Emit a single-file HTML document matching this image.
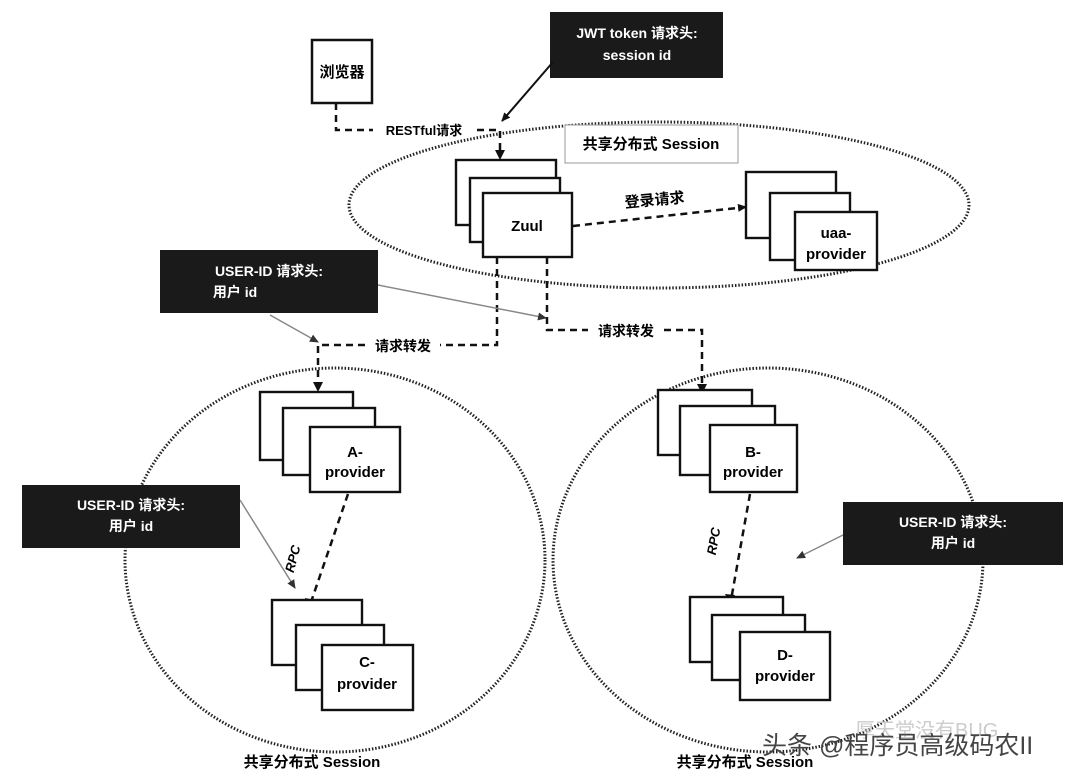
<!DOCTYPE html>
<html><head><meta charset="utf-8"><style>
html,body{margin:0;padding:0;background:#fff;}
svg{display:block;}
text{font-family:"Liberation Sans","Noto Sans CJK SC",sans-serif;}
</style></head><body>
<svg width="1080" height="780" viewBox="0 0 1080 780" xmlns="http://www.w3.org/2000/svg">
<defs>
<marker id="ah" markerWidth="10" markerHeight="10" refX="8" refY="5" orient="auto" markerUnits="userSpaceOnUse"><path d="M0,1 L9,5 L0,9 z" fill="#111"/></marker>
<marker id="ag" markerWidth="10" markerHeight="10" refX="8" refY="5" orient="auto" markerUnits="userSpaceOnUse"><path d="M0,1 L9,5 L0,9 z" fill="#333"/></marker>
</defs>
<rect width="1080" height="780" fill="#fff"/>
<g fill="none" stroke="#222" stroke-width="3" stroke-dasharray="1.5,1.8">
<ellipse cx="659" cy="205" rx="310" ry="83"/>
<ellipse cx="335" cy="560" rx="210" ry="192"/>
<ellipse cx="768" cy="560" rx="215" ry="192"/>
</g>
<rect x="312" y="40" width="60" height="63" fill="#fff" stroke="#111" stroke-width="2.5"/>
<text x="342" y="77" font-size="15" font-weight="bold" text-anchor="middle">浏览器</text>
<rect x="550" y="12" width="173" height="66" fill="#1a1a1a"/>
<text x="637" y="38" font-size="14" fill="#fff" text-anchor="middle" font-weight="bold">JWT token 请求头:</text>
<text x="637" y="60" font-size="14" fill="#fff" text-anchor="middle" font-weight="bold">session id</text>
<line x1="553" y1="62" x2="502" y2="121" stroke="#111" stroke-width="2" marker-end="url(#ah)"/>
<rect x="565" y="125" width="173" height="38" fill="#fff" stroke="#999" stroke-width="1"/>
<text x="651" y="149" font-size="15" font-weight="bold" text-anchor="middle">共享分布式 Session</text>
<g fill="none" stroke="#111" stroke-width="2.5" stroke-dasharray="7,5">
<polyline points="336,103 336,130 373,130"/>
<polyline points="477,130 500,130 500,155"/>
<line x1="573" y1="226" x2="746" y2="207" marker-end="url(#ah)"/>
<polyline points="497,257 497,345 440,345"/>
<polyline points="365,345 318,345 318,388" />
<polyline points="547,257 547,330 588,330"/>
<polyline points="664,330 702,330 702,390"/>
<line x1="348" y1="494" x2="310" y2="605"/>
<line x1="750" y1="494" x2="731" y2="600"/>
</g>
<g fill="#111"><path d="M495,150 L505,150 L500,160z"/><path d="M313,382 L323,382 L318,392z"/><path d="M697,384 L707,384 L702,394z"/><path d="M305,598 L315,600 L309,610z"/><path d="M725,594 L735,595 L730,605z"/></g>
<text x="424" y="135" font-size="13" font-weight="bold" text-anchor="middle">RESTful请求</text>
<text x="655" y="205" font-size="15" font-weight="bold" text-anchor="middle" transform="rotate(-5 655 205)">登录请求</text>
<text x="403" y="351" font-size="14" font-weight="bold" text-anchor="middle">请求转发</text>
<text x="626" y="336" font-size="14" font-weight="bold" text-anchor="middle">请求转发</text>
<g fill="#fff" stroke="#111" stroke-width="2.4">
<rect x="456" y="160" width="100" height="65"/><rect x="470" y="178" width="90" height="64"/><rect x="483" y="193" width="89" height="64"/>
<rect x="746" y="172" width="90" height="66"/><rect x="770" y="193" width="80" height="67"/><rect x="795" y="212" width="82" height="58"/>
<rect x="260" y="392" width="93" height="68"/><rect x="283" y="408" width="92" height="67"/><rect x="310" y="427" width="90" height="65"/>
<rect x="272" y="600" width="90" height="65"/><rect x="296" y="625" width="88" height="65"/><rect x="322" y="645" width="91" height="65"/>
<rect x="658" y="390" width="94" height="65"/><rect x="680" y="406" width="95" height="69"/><rect x="710" y="425" width="87" height="67"/>
<rect x="690" y="597" width="93" height="65"/><rect x="712" y="615" width="93" height="65"/><rect x="740" y="632" width="90" height="68"/>
</g>
<g font-size="15" font-weight="bold" text-anchor="middle">
<text x="527" y="231">Zuul</text>
<text x="836" y="238">uaa-</text><text x="836" y="259">provider</text>
<text x="355" y="457">A-</text><text x="355" y="477">provider</text>
<text x="367" y="667">C-</text><text x="367" y="689">provider</text>
<text x="753" y="457">B-</text><text x="753" y="477">provider</text>
<text x="785" y="660">D-</text><text x="785" y="681">provider</text>
</g>
<g font-size="13" font-style="italic" font-weight="bold" text-anchor="middle">
<text transform="translate(297,560) rotate(-75)">RPC</text>
<text transform="translate(718,542) rotate(-80)">RPC</text>
</g>
<g stroke="#888" stroke-width="1.5" fill="none">
<line x1="378" y1="285" x2="546" y2="318" marker-end="url(#ag)"/>
<line x1="270" y1="315" x2="318" y2="342" marker-end="url(#ag)"/>
<line x1="240" y1="500" x2="295" y2="588" marker-end="url(#ag)"/>
<line x1="843" y1="535" x2="797" y2="558" marker-end="url(#ag)"/>
</g>
<g font-size="14" font-weight="bold" fill="#fff">
<rect x="160" y="250" width="218" height="63" fill="#1a1a1a"/>
<text x="269" y="276" text-anchor="middle">USER-ID  请求头:</text><text x="235" y="297" text-anchor="middle">用户 id</text>
<rect x="22" y="485" width="218" height="63" fill="#1a1a1a"/>
<text x="131" y="510" text-anchor="middle">USER-ID  请求头:</text><text x="131" y="531" text-anchor="middle">用户 id</text>
<rect x="843" y="502" width="220" height="63" fill="#1a1a1a"/>
<text x="953" y="527" text-anchor="middle">USER-ID  请求头:</text><text x="953" y="548" text-anchor="middle">用户 id</text>
</g>
<g font-size="15" font-weight="bold" text-anchor="middle">
<text x="312" y="767">共享分布式 Session</text>
<text x="745" y="767">共享分布式 Session</text>
</g>
<text x="855" y="737" font-size="20" fill="#ccc">厚天堂没有BUG</text>
<text x="762" y="754" font-size="25" fill="#444">头条 @程序员高级码农II</text>
</svg>
</body></html>
